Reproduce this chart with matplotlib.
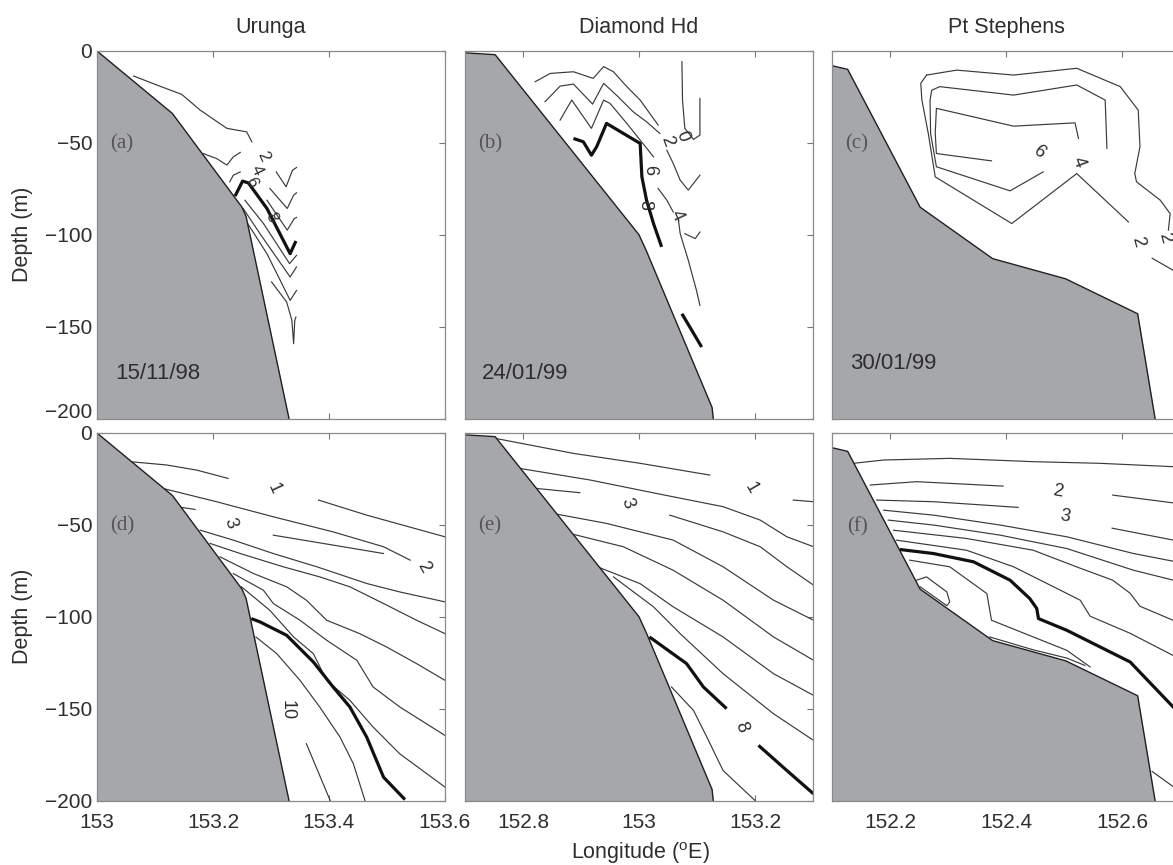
import matplotlib
matplotlib.use('Agg')
import matplotlib.pyplot as plt
from matplotlib.transforms import ScaledTranslation

plt.rcParams['font.family'] = ['Liberation Sans', 'DejaVu Sans']
plt.rcParams['mathtext.fontset'] = 'custom'
plt.rcParams['mathtext.rm'] = 'Liberation Sans'

##labels and axes
sites = ['Urunga', 'Diamond Hd', 'Pt Stephens']
dates = ['15/11/98', '24/01/99', '30/01/99']
tags = ['(a)', '(b)', '(c)', '(d)', '(e)', '(f)']
lon_ranges = [(153.0, 153.6), (152.7, 153.3), (152.1, 152.7)]
lon_ticks = [[153.0, 153.2, 153.4, 153.6], [152.8, 153.0, 153.2], [152.2, 152.4, 152.6]]
lon_ticklabels = [['153', '153.2', '153.4', '153.6'], ['152.8', '153', '153.2'], ['152.2', '152.4', '152.6']]
depth_ticks = [0, -50, -100, -150, -200]

##bathymetry (lon, depth)
urunga_lon = [153.0, 153.13, 153.25, 153.257, 153.331]
urunga_dep = [0, -34, -85, -90, -200]
diamond_lon = [152.7, 152.752, 153.0, 153.013, 153.126, 153.128]
diamond_dep = [-1, -2, -100, -109, -194, -200]
stephens_lon = [152.1, 152.127, 152.252, 152.377, 152.503, 152.627, 152.657]
stephens_dep = [-8, -10, -85, -113, -124, -143, -200]

##contour lines, each one is (lon list, depth list)
a_thin = [
    ([153.063, 153.103, 153.146, 153.178, 153.203, 153.224, 153.258, 153.267], [-13.6, -18.5, -23.6, -32.2, -37.6, -42.1, -44.0, -49.4]),
    ([153.183, 153.206, 153.224, 153.235, 153.247], [-55.8, -58.5, -62.1, -57.6, -55.2]),
    ([153.229, 153.235, 153.247], [-71.2, -67.6, -65.8]),
    ([153.309, 153.326, 153.337, 153.344], [-65.8, -73.9, -64.9, -63.4]),
    ([153.298, 153.328, 153.339, 153.344], [-74.8, -85.7, -78.5, -77.2]),
    ([153.293, 153.328, 153.340, 153.344], [-81.2, -97.5, -91.2, -90.6]),
    ([153.255, 153.287, 153.332, 153.344], [-81.2, -93.9, -115.7, -111.2]),
    ([153.252, 153.281, 153.333, 153.344], [-85.7, -99.4, -123.0, -117.5]),
    ([153.258, 153.293, 153.333, 153.344], [-93.0, -110.3, -135.7, -130.3]),
    ([153.301, 153.327, 153.336, 153.339, 153.341, 153.343], [-125.7, -136.6, -146.6, -159.3, -146.6, -144.8]),
]
a_thick = [([153.238, 153.251, 153.261, 153.293, 153.333, 153.343], [-79.0, -70.8, -71.8, -85.7, -110.3, -103.4])]
a_labels = [('2', 153.287, -57.6, -65), ('4', 153.275, -64.9, -65), ('6', 153.265, -71.2, -65), ('8', 153.300, -90.5, -65)]

b_thin = [
    ([152.821, 152.847, 152.887, 152.921, 152.939, 152.956, 152.979, 153.002, 153.033], [-16.7, -12.2, -11.3, -14.9, -8.5, -11.3, -19.4, -26.7, -40.3]),
    ([152.838, 152.864, 152.887, 152.920, 152.939, 152.961, 152.990, 153.013, 153.036], [-27.6, -19.1, -18.0, -28.9, -17.6, -24.0, -33.1, -38.5, -44.9]),
    ([152.864, 152.884, 152.918, 152.939, 152.950, 152.979, 153.002, 153.016, 153.025], [-37.6, -26.7, -42.1, -26.7, -28.5, -39.4, -48.5, -54.0, -57.6]),
    ([153.048, 153.059, 153.071, 153.085, 153.105], [-54.0, -61.2, -70.3, -75.7, -67.6]),
    ([153.033, 153.048, 153.059], [-74.8, -81.2, -87.6]),
    ([153.068, 153.071, 153.085, 153.099, 153.105], [-92.1, -99.4, -113.9, -130.2, -138.4]),
    ([153.079, 153.097, 153.105], [-99.4, -102.1, -98.5]),
    ([153.074, 153.075, 153.079, 153.094, 153.105, 153.105], [-5.8, -26.7, -42.1, -48.1, -45.8, -25.8]),
]
b_thick = [
    ([152.887, 152.904, 152.918, 152.927, 152.944, 153.002, 153.005, 153.013, 153.025, 153.039], [-47.6, -49.4, -56.7, -52.1, -39.4, -50.3, -68.5, -81.2, -93.9, -106.6]),
    ([153.074, 153.091, 153.108], [-143.0, -152.0, -161.1]),
]
b_labels = [('0', 153.074, -46.3, -70), ('2', 153.049, -48.9, -70), ('6', 153.018, -64.9, -90), ('8', 153.010, -83.9, -90), ('4', 153.065, -89.4, -65)]

c_thin = [
    ([152.263, 152.315, 152.413, 152.522, 152.597, 152.628, 152.631, 152.622, 152.625, 152.666, 152.683, 152.680], [-13.1, -10.4, -13.1, -9.4, -19.4, -32.2, -52.1, -66.7, -71.2, -81.2, -88.5, -97.5]),
    ([152.263, 152.253, 152.255, 152.266, 152.278, 152.410, 152.522, 152.611], [-13.1, -17.6, -26.7, -44.9, -68.5, -93.9, -66.7, -93.0]),
    ([152.652, 152.688, 152.700], [-112.8, -119.3, -121.5]),
    ([152.574, 152.571, 152.522, 152.413, 152.286, 152.272, 152.269, 152.270, 152.280, 152.407, 152.464], [-53.0, -26.7, -18.5, -24.0, -19.4, -21.3, -26.7, -44.9, -63.0, -76.1, -65.8]),
    ([152.525, 152.519, 152.413, 152.280, 152.278, 152.280, 152.375], [-47.6, -39.1, -40.9, -31.2, -44.9, -55.8, -59.8]),
]
c_thick = []
c_labels = [('6', 152.456, -54.9, -40), ('4', 152.525, -60.3, -70), ('2', 152.628, -103.5, -75), ('2', 152.674, -101.4, -75)]

d_thin = [
    ([153.057, 153.120, 153.172, 153.226], [-15.6, -17.4, -20.2, -24.7]),
    ([153.382, 153.465, 153.600], [-36.5, -44.7, -56.5]),
    ([153.114, 153.206, 153.304, 153.407, 153.494, 153.540], [-30.2, -37.4, -45.6, -53.8, -61.9, -69.2]),
    ([153.146, 153.169], [-40.5, -41.6]),
    ([153.304, 153.407, 153.494], [-55.6, -61.0, -65.6]),
    ([153.178, 153.235, 153.304, 153.379, 153.465, 153.522, 153.600], [-52.9, -58.3, -65.6, -72.8, -81.9, -86.5, -91.9]),
    ([153.195, 153.247, 153.321, 153.384, 153.436, 153.494, 153.551, 153.600], [-60.1, -65.6, -72.8, -78.3, -83.7, -92.8, -101.9, -109.2]),
    ([153.212, 153.270, 153.327, 153.361, 153.396, 153.453, 153.499, 153.551, 153.600], [-67.4, -76.5, -83.7, -91.0, -101.9, -109.2, -116.4, -125.5, -134.6]),
    ([153.235, 153.287, 153.304, 153.350, 153.396, 153.448, 153.476, 153.522, 153.600], [-76.5, -85.6, -92.8, -101.9, -112.8, -123.7, -138.2, -149.1, -164.6]),
    ([153.249, 153.298, 153.339, 153.373, 153.396, 153.436, 153.476, 153.522, 153.600], [-83.7, -96.5, -111.0, -120.1, -134.6, -145.5, -160.0, -174.6, -192.7]),
    ([153.274, 153.310, 153.350, 153.384, 153.419, 153.442, 153.462], [-111.0, -120.1, -134.6, -149.1, -165.5, -180.0, -200.0]),
    ([153.361, 153.402], [-169.1, -200.0]),
]
d_thick = [([153.266, 153.281, 153.327, 153.373, 153.407, 153.436, 153.465, 153.494, 153.531], [-101.0, -102.8, -110.1, -124.6, -138.2, -149.1, -165.5, -187.3, -199.5])]
d_labels = [('1', 153.304, -30.2, -65), ('3', 153.229, -49.2, -70), ('2', 153.563, -72.8, -60), ('10', 153.327, -151.0, -90)]

e_thin = [
    ([152.752, 152.887, 153.002, 153.122], [-2.9, -11.1, -16.5, -22.9]),
    ([153.266, 153.301], [-36.5, -37.4]),
    ([152.795, 152.916, 153.030, 153.145, 153.209, 153.255, 153.301], [-19.3, -25.6, -32.9, -40.1, -47.4, -56.5, -61.9]),
    ([152.824, 152.898], [-30.2, -32.5]),
    ([153.053, 153.145, 153.209, 153.255, 153.301], [-44.7, -53.8, -61.9, -72.8, -82.8]),
    ([152.852, 152.944, 153.059, 153.145, 153.232, 153.301], [-43.8, -49.2, -58.3, -72.8, -91.0, -101.9]),
    ([152.881, 152.973, 153.059, 153.145, 153.232, 153.301], [-54.7, -61.9, -74.7, -91.0, -111.0, -123.7]),
    ([152.921, 153.002, 153.059, 153.145, 153.232, 153.301], [-71.9, -82.0, -94.6, -111.0, -131.0, -142.8]),
    ([152.956, 153.025, 153.071, 153.145, 153.232, 153.301], [-78.3, -94.6, -109.2, -131.0, -152.8, -167.3]),
    ([153.056, 153.094, 153.117, 153.145, 153.200], [-138.2, -151.0, -165.5, -183.7, -200.0]),
]
e_thick = [
    ([153.018, 153.030, 153.082, 153.111, 153.151], [-111.0, -113.7, -125.5, -138.2, -150.0]),
    ([153.206, 153.255, 153.301], [-170.0, -183.7, -196.4]),
]
e_labels = [('1', 153.194, -30.2, -60), ('3', 152.979, -38.3, -70), ('8', 153.177, -160.0, -70)]

f_thin = [
    ([152.137, 152.189, 152.303, 152.447, 152.562, 152.700], [-16.5, -14.7, -13.8, -15.6, -16.5, -18.5]),
    ([152.166, 152.246, 152.303, 152.395], [-28.3, -26.5, -27.4, -28.9]),
    ([152.584, 152.700], [-33.8, -38.5]),
    ([152.177, 152.275, 152.361, 152.421], [-36.5, -37.4, -39.2, -40.5]),
    ([152.583, 152.700], [-51.8, -59.0]),
    ([152.189, 152.275, 152.390, 152.505, 152.620, 152.700], [-42.0, -44.7, -50.1, -56.5, -65.6, -70.5]),
    ([152.197, 152.275, 152.390, 152.505, 152.620, 152.700], [-47.4, -50.1, -55.6, -62.9, -74.7, -81.0]),
    ([152.206, 152.332, 152.447, 152.528, 152.584, 152.614, 152.631, 152.700], [-52.9, -57.4, -63.8, -73.6, -80.1, -87.2, -94.3, -103.5]),
    ([152.211, 152.332, 152.413, 152.482, 152.528, 152.545, 152.614, 152.700], [-58.3, -63.8, -72.8, -83.7, -91.0, -99.7, -109.0, -123.0]),
    ([152.234, 152.303, 152.367, 152.375, 152.447, 152.505, 152.545], [-69.2, -72.8, -87.4, -101.9, -111.0, -118.3, -127.3]),
    ([152.246, 152.263, 152.298, 152.303, 152.298, 152.252], [-80.1, -78.3, -86.5, -91.9, -94.0, -83.7]),
    ([152.372, 152.447, 152.505, 152.536], [-111.0, -118.0, -122.5, -126.5]),
    ([152.652, 152.688, 152.700], [-184.2, -192.4, -194.0]),
]
f_thick = [([152.217, 152.275, 152.344, 152.407, 152.441, 152.453, 152.456, 152.505, 152.614, 152.700], [-63.4, -65.6, -70.1, -80.1, -90.1, -95.5, -101.0, -107.4, -124.6, -153.0])]
f_labels = [('2', 152.490, -32.0, -10), ('3', 152.502, -45.6, -10)]

bathy = [(urunga_lon, urunga_dep), (diamond_lon, diamond_dep), (stephens_lon, stephens_dep)]
thin_sets = [a_thin, b_thin, c_thin, d_thin, e_thin, f_thin]
thick_sets = [a_thick, b_thick, c_thick, d_thick, e_thick, f_thick]
label_sets = [a_labels, b_labels, c_labels, d_labels, e_labels, f_labels]
date_pos = [(0.175, 0.123), (0.172, 0.123), (0.175, 0.150)]

W, H = 1173, 865
fig = plt.figure(figsize=(W / 100, H / 100), dpi=100)
col_left = [97, 465, 832]
row_top = [51, 433]
ax_w, ax_h = 348, 367.5

text_col = '#2e2e2e'
ground = '#a6a7ab'

for r in range(2):
    for c in range(3):
        k = r * 3 + c
        ax = fig.add_axes([col_left[c] / W, 1 - (row_top[r] + ax_h) / H, ax_w / W, ax_h / H])
        lon, dep = bathy[c]
        #contour lines first, the ground is put on top of them
        for xs, ys in thin_sets[k]:
            ax.plot(xs, ys, color='#3a3a3a', lw=0.85, zorder=2)
        for xs, ys in thick_sets[k]:
            ax.plot(xs, ys, color='#111111', lw=2.3, zorder=2, solid_capstyle='butt')
        fs = 12 if k == 0 else 13
        for txt, x, y, rot in label_sets[k]:
            ax.text(x, y, txt, rotation=rot, ha='center', va='center', fontsize=fs,
                    color=text_col, zorder=5)
        ax.fill_between(lon, dep, -200, color=ground, lw=0, zorder=3)
        ax.plot(lon, dep, color='#202020', lw=1.0, zorder=4)

        ax.set_xlim(*lon_ranges[c])
        ax.set_ylim(-200, 0)
        ax.set_xticks(lon_ticks[c])
        ax.set_yticks(depth_ticks)
        ax.tick_params(direction='in', top=True, right=True, length=4, width=0.8,
                       color='#777777', labelsize=15, labelcolor=text_col)
        ax.tick_params(axis='x', pad=9)
        if r == 0:
            ax.set_xticklabels([])
            ax.set_title(sites[c], fontsize=15.5, pad=13, color=text_col)
            ax.text(date_pos[c][0], date_pos[c][1], dates[c], transform=ax.transAxes,
                    ha='center', va='center', fontsize=16, color=text_col, zorder=6)
        else:
            ax.set_xticklabels(lon_ticklabels[c])
        if c == 0:
            ax.set_ylabel('Depth (m)', fontsize=15.5, color=text_col)
            ax.yaxis.set_label_coords(-0.185, 0.5)
            if r == 0:
                #the lowest label of the upper panel sits a little higher, as in the original
                lab = ax.yaxis.get_major_ticks()[-1].label1
                lab.set_transform(lab.get_transform() + ScaledTranslation(0, 6 / 72, fig.dpi_scale_trans))
        else:
            ax.set_yticklabels([])
        ax.text(0.072, 0.746, tags[k], transform=ax.transAxes, ha='center', va='center',
                fontsize=15, color='#555555', family='Liberation Serif', zorder=6)
        for sp in ax.spines.values():
            sp.set_color('#8a8a8a')
            sp.set_linewidth(0.9)
            sp.set_zorder(6)

fig.text(640 / W, 1 - 853 / H, r'Longitude ($^{\rm o}$E)', ha='center', va='center',
         fontsize=15.5, color=text_col)

fig.savefig('out.png', dpi=100)
